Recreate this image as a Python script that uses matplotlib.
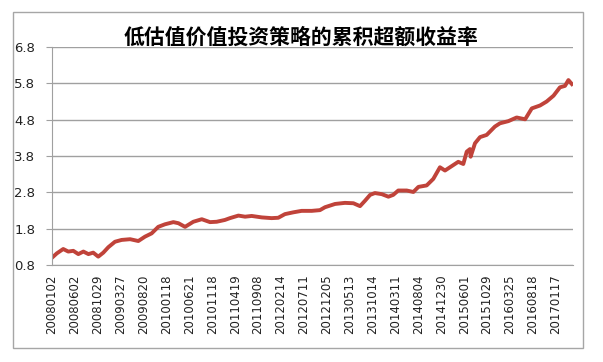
import matplotlib
matplotlib.use("Agg")
import matplotlib.pyplot as plt
from matplotlib.patches import Rectangle

plt.rcParams['font.family'] = ['Noto Sans CJK SC', 'DejaVu Sans']

# trading-day index and cumulative excess return
day_idx = [0, 21, 49, 71, 93, 115, 137, 159, 180, 202, 224, 246, 275, 304,
           341, 377, 406, 435, 464, 493, 530, 552, 581, 617, 654, 690, 719,
           755, 777, 814, 843, 872, 916, 959, 988, 1017, 1054, 1090, 1134,
           1170, 1192, 1236, 1279, 1316, 1345, 1367, 1389, 1410, 1440, 1469,
           1490, 1512, 1549, 1578, 1600, 1636, 1665, 1694, 1716, 1745, 1774,
           1796, 1811, 1825, 1828, 1847, 1869, 1898, 1934, 1956, 1993, 2029,
           2066, 2095, 2131, 2160, 2190, 2218, 2240, 2255, 2270]
excess = [1.00, 1.12, 1.24, 1.17, 1.19, 1.10, 1.17, 1.10, 1.14, 1.03, 1.14,
          1.29, 1.44, 1.49, 1.51, 1.46, 1.58, 1.67, 1.85, 1.92, 1.98, 1.95,
          1.85, 1.99, 2.06, 1.98, 1.99, 2.04, 2.09, 2.16, 2.13, 2.15, 2.11,
          2.09, 2.10, 2.20, 2.25, 2.29, 2.29, 2.31, 2.39, 2.48, 2.51, 2.50,
          2.42, 2.57, 2.73, 2.78, 2.75, 2.68, 2.73, 2.85, 2.85, 2.81, 2.95,
          2.99, 3.17, 3.49, 3.40, 3.52, 3.64, 3.58, 3.92, 3.99, 3.78, 4.15,
          4.32, 4.38, 4.61, 4.70, 4.76, 4.86, 4.81, 5.11, 5.19, 5.30, 5.46,
          5.69, 5.73, 5.89, 5.78]

date_labels = ["20080102", "20080602", "20081029", "20090327", "20090820",
               "20100118", "20100621", "20101118", "20110419", "20110908",
               "20120214", "20120711", "20121205", "20130513", "20131014",
               "20140311", "20140804", "20141230", "20150601", "20151029",
               "20160325", "20160818", "20170117"]
y_ticks = [0.8, 1.8, 2.8, 3.8, 4.8, 5.8, 6.8]

fig = plt.figure(figsize=(6.03, 3.62), dpi=100)
ax = fig.add_axes([52/603, 1-265/362, 521/603, 218/362])

# outer chart border
fig.patches.append(Rectangle((13/603, 14/362), 570/603, 336/362,
                             transform=fig.transFigure, fill=False,
                             edgecolor="#a6a6a6", linewidth=1))

ax.plot(day_idx, excess, color="#c0433a", linewidth=2.8, solid_joinstyle="round")

ax.set_xlim(0, 2275)
ax.set_ylim(0.8, 6.8)
ax.set_yticks(y_ticks)
ax.set_yticklabels([f"{v:.1f}" for v in y_ticks], fontsize=9.5,
                   family="DejaVu Sans")
ax.yaxis.grid(True, color="#a0a0a0", linewidth=1)
ax.set_axisbelow(True)

ax.set_xticks(range(0, 100*len(date_labels), 100))
ax.set_xticklabels(date_labels, rotation=90, fontsize=8.5, family="DejaVu Sans")
ax.set_xticks(range(0, 100*len(date_labels), 200), minor=True)
ax.tick_params(axis="x", which="major", length=0, pad=7, colors="#222222")
ax.tick_params(axis="x", which="minor", length=5, color="#a0a0a0")
ax.tick_params(axis="y", length=4, color="#a0a0a0", pad=8, labelcolor="#222222")

for s in ["top", "right"]:
    ax.spines[s].set_visible(False)
for s in ["left", "bottom"]:
    ax.spines[s].set_color("#a0a0a0")

fig.text(0.5, 1-37/362, "低估值价值投资策略的累积超额收益率", ha="center", va="center",
         fontsize=15, fontweight="bold")

fig.savefig("out.png", dpi=100)
